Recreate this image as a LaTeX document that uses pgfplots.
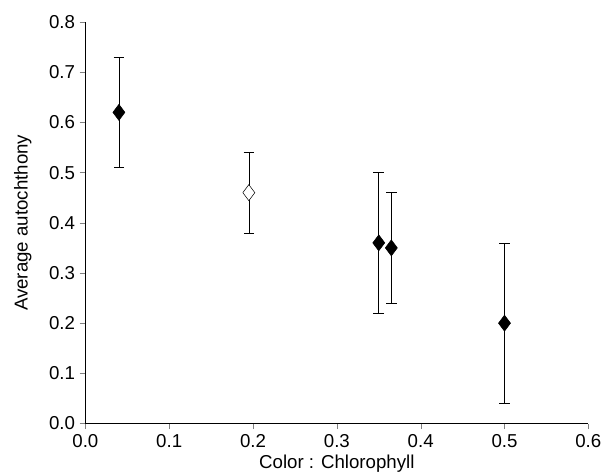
\documentclass[border=0pt]{standalone}
\usepackage{pgfplots}
\pgfplotsset{compat=1.18}
\usetikzlibrary{calc}
\usepackage{fontspec}
\setmainfont{Liberation Sans}
\begin{document}
\begin{tikzpicture}
\begin{axis}[
  scale only axis, width=377pt, height=301pt,
  xmin=0, xmax=0.6, ymin=0, ymax=0.8,
  axis lines*=left,
  xtick={0,0.1,...,0.6}, ytick={0,0.1,...,0.8},
  tick align=outside, tick pos=left,
  /pgf/number format/assume math mode=true,
  /pgf/number format/fixed, /pgf/number format/fixed zerofill, /pgf/number format/precision=1,
  xlabel={Color : Chlorophyll}, ylabel={Average autochthony},
  tick label style={font=\fontsize{14}{16}\selectfont},
  label style={font=\fontsize{14}{16}\selectfont},
  xlabel style={at={(axis description cs:0.5,0)}, anchor=center, yshift=-30pt},
  ylabel style={at={(axis description cs:0,0.5)}, anchor=center, yshift=47pt},
  clip=false,
]
\addplot[only marks, mark=diamond*, mark size=6pt, black,
  error bars/.cd, y dir=both, y explicit, error mark options={rotate=90, mark size=4pt}]
  coordinates {(0.04,0.62) +- (0,0.11) (0.35,0.36) +- (0,0.14) (0.365,0.35) +- (0,0.11) (0.5,0.20) +- (0,0.16)};
\addplot[only marks, mark=diamond*, mark size=6pt, black, mark options={fill=white},
  error bars/.cd, y dir=both, y explicit, error mark options={rotate=90, mark size=4pt}]
  coordinates {(0.195,0.46) +- (0,0.08)};
\end{axis}
\pgfresetboundingbox
\path ($(current axis.south west)+(-64pt,-38pt)$) rectangle ($(current axis.north east)+(20pt,16.5pt)$);
\end{tikzpicture}
\end{document}
